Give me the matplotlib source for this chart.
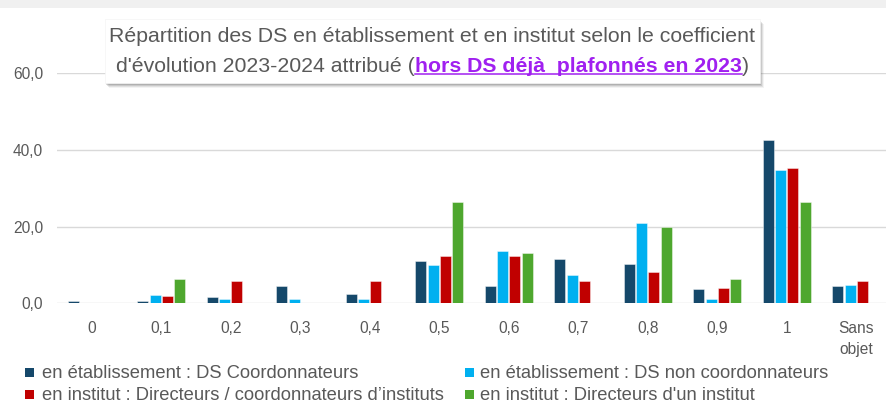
import numpy as np
import matplotlib
matplotlib.use("Agg")
import matplotlib.pyplot as plt
from matplotlib.patches import Rectangle
from matplotlib.lines import Line2D
from matplotlib.ticker import FuncFormatter

plt.rcParams['font.family'] = ['Liberation Sans', 'DejaVu Sans']

# ---------------- data ----------------
categories = ["0", "0,1", "0,2", "0,3", "0,4", "0,5", "0,6", "0,7", "0,8", "0,9", "1", "Sans\nobjet"]
series_names = [
    "en établissement : DS Coordonnateurs",
    "en établissement : DS non coordonnateurs",
    "en institut : Directeurs / coordonnateurs d’instituts",
    "en institut : Directeurs d'un institut",
]
nan = np.nan
etab_coord    = [0.6, 0.5, 1.7, 4.4, 2.5, 11.1, 4.4, 11.6, 10.3, 3.7, 42.6, 4.4]
etab_noncoord = [nan, 2.2, 1.0, 1.0, 1.0, 9.9, 13.6, 7.4, 20.9, 1.0, 34.8, 4.8]
inst_dircoord = [nan, 1.9, 5.9, nan, 5.9, 12.3, 12.3, 5.9, 8.2, 3.9, 35.2, 5.9]
inst_dir      = [nan, 6.4, nan, nan, nan, 26.3, 13.1, nan, 20.0, 6.4, 26.3, nan]
series_values = [etab_coord, etab_noncoord, inst_dircoord, inst_dir]
colors = ["#15486A", "#00B0F0", "#C00000", "#4EA72E"]
yticks = [0, 20, 40, 60]

title_line1 = "Répartition des DS en établissement et en institut selon le coefficient"
title_line2 = [("d'évolution 2023-2024 attribué (", "normal"),
               ("hors DS déjà  plafonnés en 2023", "link"),
               (")", "normal")]

# ---------------- figure ----------------
W, H = 887, 403
fig = plt.figure(figsize=(W / 100, H / 100), dpi=100)
fig.patch.set_facecolor("white")
renderer = fig.canvas.get_renderer()

def fx(x):
    return x / W

def fy(y):
    return 1 - y / H

GRAY = "#595959"

# top grey band
fig.add_artist(Rectangle((0, fy(8)), 1, 8 / H, transform=fig.transFigure,
                         facecolor="#f0f0f0", edgecolor="none", zorder=0))

ax = fig.add_axes([fx(57), fy(303.3), 834 / W, 230 / H])
x = np.arange(len(categories))
pitch, bw = 0.177, 0.158
for i, (vals, col) in enumerate(zip(series_values, colors)):
    ax.bar(x + (i - 1.5) * pitch, vals, width=bw, color=col,
           edgecolor=(1, 1, 1, 0.5), linewidth=0.6, zorder=3, label=series_names[i])

ax.set_xlim(-0.5, len(categories) - 0.5)
ax.set_ylim(0, 60)
ax.set_yticks(yticks)
ax.yaxis.set_major_formatter(FuncFormatter(lambda v, p: f"{v:.1f}".replace(".", ",")))
ax.set_xticks(x)
ax.set_xticklabels(categories, linespacing=1.55)
ax.tick_params(axis="y", length=0, pad=10, labelsize=11.2, labelcolor=GRAY)
ax.tick_params(axis="x", length=0, pad=12.5, labelsize=11.2, labelcolor=GRAY)
for s in ax.spines.values():
    s.set_visible(False)
ax.yaxis.grid(True, color="#d9d9d9", linewidth=1.0, zorder=0)
ax.set_axisbelow(True)
ax.patch.set_alpha(0)

# ---------------- title box ----------------
bx0, by0, bx1, by1 = 105, 19, 760, 83
for k, a in zip([5, 4, 3, 2], [0.06, 0.10, 0.14, 0.18]):
    fig.add_artist(Rectangle((fx(bx0 + k - 1), fy(by1 + k)), (bx1 - bx0) / W, (by1 - by0) / H,
                             transform=fig.transFigure, facecolor="#404040", alpha=a,
                             edgecolor="none", zorder=5))
fig.add_artist(Rectangle((fx(bx0), fy(by1)), (bx1 - bx0) / W, (by1 - by0) / H,
                         transform=fig.transFigure, facecolor="white",
                         edgecolor="#f4f4f4", linewidth=0.5, zorder=6))

cx = (bx0 + bx1) / 2
t1 = fig.text(fx(cx), fy(42.5), title_line1, ha="center", va="baseline",
              fontsize=13.5, color=GRAY, zorder=7)
w1 = t1.get_window_extent(renderer).width
tfs = 13.5 * 643 / w1
t1.set_fontsize(tfs)

# line 2 : mixed styles
pieces = []
for txt, kind in title_line2:
    if kind == "link":
        t = fig.text(0, fy(72), txt, ha="left", va="baseline", fontsize=tfs,
                     color="#A020F0", fontweight="bold", zorder=7)
    else:
        t = fig.text(0, fy(72), txt, ha="left", va="baseline", fontsize=tfs,
                     color=GRAY, zorder=7)
    pieces.append((t, kind))
widths = [p[0].get_window_extent(renderer).width for p in pieces]
total = sum(widths)
xs = cx - total / 2
for (t, kind), w in zip(pieces, widths):
    t.set_x(fx(xs))
    if kind == "link":
        fig.add_artist(Line2D([fx(xs), fx(xs + w)], [fy(74), fy(74)],
                              transform=fig.transFigure, color="#A020F0",
                              linewidth=1.1, zorder=7))
    xs += w

# ---------------- legend ----------------
leg_pos = [(25, 372, 42), (465, 372, 480), (25, 394, 42), (465, 394, 480)]
leg_texts = []
for (mx, my, tx), name, col in zip(leg_pos, series_names, colors):
    fig.add_artist(Rectangle((fx(mx), fy(my + 4.5)), 9 / W, 9 / H, transform=fig.transFigure,
                             facecolor=col, edgecolor="none", zorder=7))
    leg_texts.append(fig.text(fx(tx), fy(my), name, ha="left", va="center_baseline",
                              fontsize=12, color=GRAY, zorder=7))
lw0 = leg_texts[0].get_window_extent(renderer).width
lfs = 12 * 316 / lw0
for t in leg_texts:
    t.set_fontsize(lfs)

fig.savefig("out.png", dpi=100)
